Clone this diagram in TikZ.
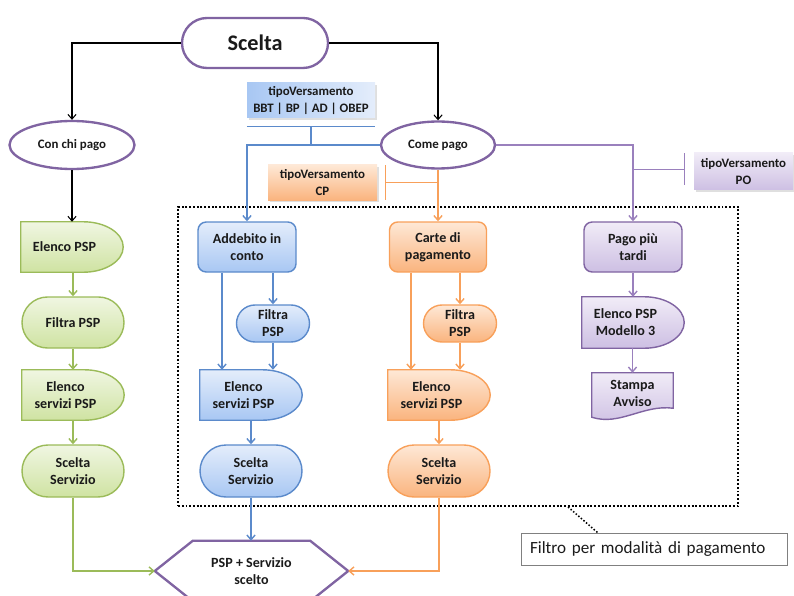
\documentclass[tikz,border=0pt]{standalone}
\usepackage{fontspec}
\setmainfont{Carlito}
\usetikzlibrary{positioning,calc,arrows.meta,shapes.misc,shapes.geometric,shadows,backgrounds}

\definecolor{viola}{HTML}{8064A2}
\definecolor{violalinea}{HTML}{9A80BD}
\definecolor{violasu}{HTML}{F1ECF7}
\definecolor{violagiu}{HTML}{CDBFE3}
\definecolor{verdelinea}{HTML}{9BBB59}
\definecolor{verdesu}{HTML}{F0F6E2}
\definecolor{verdegiu}{HTML}{CFE3A2}
\definecolor{blulinea}{HTML}{5B8ACB}
\definecolor{blusu}{HTML}{E4EDFB}
\definecolor{blugiu}{HTML}{A8C7F3}
\definecolor{aranciolinea}{HTML}{F8A05A}
\definecolor{aranciosu}{HTML}{FEE8D6}
\definecolor{aranciogiu}{HTML}{FAB47E}
\definecolor{testo}{HTML}{1A1A1A}

\tikzset{
  dim/.style 2 args={minimum width=#1*0.03cm, minimum height=#2*0.03cm},
  base/.style={inner sep=0pt, align=center, text=testo, font=\bfseries\fontsize{12}{14.5}\selectfont},
  piccolo/.style={font=\bfseries\fontsize{11}{14}\selectfont},
  ovale/.style={base, piccolo, ellipse, draw=viola, line width=2pt, fill=white},
  capsula/.style={base, rounded rectangle, line width=1.2pt},
  scatola/.style={base, rectangle, rounded corners=7pt, line width=1.2pt},
  dforma/.style={base, rectangle},
  tipo/.style={base, piccolo, rectangle, drop shadow={opacity=0.25, shadow xshift=1.5pt, shadow yshift=-1.5pt}},
  fverde/.style={draw=verdelinea, top color=verdesu, bottom color=verdegiu},
  fblu/.style={draw=blulinea, top color=blusu, bottom color=blugiu},
  farancio/.style={draw=aranciolinea, top color=aranciosu, bottom color=aranciogiu},
  fviola/.style={draw=viola, top color=violasu, bottom color=violagiu},
  freccia/.style={-{Straight Barb[length=4pt,width=7pt]}},
  nero/.style={draw=black, line width=0.9pt},
  lverde/.style={draw=verdelinea, line width=1.2pt},
  lblu/.style={draw=blulinea, line width=1.2pt},
  larancio/.style={draw=aranciolinea, line width=1.2pt},
  lviola/.style={draw=violalinea, line width=1.2pt},
  puntini/.style={draw=black, line width=1.6pt, dash pattern=on 1.6pt off 1.6pt}
}

\begin{document}
\begin{tikzpicture}[x=0.03cm,y=-0.03cm]
\useasboundingbox (0,0) rectangle (794,596);

% scelta iniziale
\node[capsula, draw=viola, line width=2pt, fill=white, dim={146}{50},
  font=\bfseries\fontsize{19}{22}\selectfont] (scelta) at (255,43) {Scelta};
\node[ovale, dim={125}{48}] (chi) at (72,145) {Con chi pago};
\node[ovale, dim={114}{47}] (come) at (438,145) {Come pago};

% colonna verde
\node[dforma, dim={87}{50}] (gelenco) at (64.5,247) {Elenco PSP};
\node[capsula, fverde, dim={102}{51}] (gfiltra) at (73,322.5) {Filtra PSP};
\node[dforma, dim={87}{50}] (gserv) at (65.5,395) {Elenco\\servizi PSP};
\node[capsula, fverde, dim={102}{52}] (gss) at (73,471) {Scelta\\Servizio};

% filtri tipoVersamento
\node[tipo, left color=blugiu, right color=blusu, dim={128}{35}] (tbb) at (311,100.5) {tipoVersamento\\BBT | BP | AD | OBEP};
\node[tipo, top color=aranciosu, bottom color=aranciogiu, dim={109}{35}] (tcp) at (322.5,182.5) {tipoVersamento\\CP};
\node[tipo, top color=violasu, bottom color=violagiu, dim={99}{37}] (tpo) at (743.5,171.5) {tipoVersamento\\PO};

% colonna blu
\node[scatola, fblu, dim={98}{50}] (bad) at (247,247) {Addebito in\\conto};
\node[capsula, fblu, dim={73}{37}] (bfiltra) at (273,323.5) {Filtra\\PSP};
\node[dforma, dim={87}{50}] (bserv) at (243.5,395) {Elenco\\servizi PSP};
\node[capsula, fblu, dim={102}{52}] (bss) at (251,471) {Scelta\\Servizio};

% colonna arancio
\node[scatola, farancio, dim={97}{50}] (ocarte) at (438,247) {Carte di\\pagamento};
\node[capsula, farancio, dim={73}{37}] (ofiltra) at (460,323.5) {Filtra\\PSP};
\node[dforma, dim={87}{50}] (oserv) at (431.5,395) {Elenco\\servizi PSP};
\node[capsula, farancio, dim={102}{52}] (oss) at (439,471) {Scelta\\Servizio};

% colonna viola
\node[scatola, fviola, dim={98}{50}] (ppiu) at (633,247) {Pago più\\tardi};
\node[dforma, dim={87}{51}] (pmod) at (625.5,322.5) {Elenco PSP\\Modello 3};
\node[dforma, dim={81}{40}] (pstampa) at (632.5,393) {Stampa\\Avviso};

% risultato
\node[base, rectangle, dim={193}{60}] (hex) at (251.5,571) {PSP + Servizio\\scelto};

% riquadro filtro
\node[puntini, rectangle, dim={560}{299}] (filtro) at (458,356.5) {};
\node[draw=gray, line width=0.8pt, rectangle, inner ysep=0pt, inner xsep=0.27cm,
  text width=7.44cm, minimum height=0.96cm, align=left, text=testo,
  font=\fontsize{14.6}{16}\selectfont] (etichetta) at (654,549) {Filtro per modalità di pagamento};
\draw[puntini, line width=1.3pt, dash pattern=on 1.3pt off 1.6pt]
  ($(filtro.south)+(110,0)$) -- ($(etichetta.north west)+(77,0)$);

% forme disegnate dietro
\begin{scope}[on background layer]
  \foreach \n/\s in {gelenco/fverde, gserv/fverde, bserv/fblu, oserv/farancio, pmod/fviola}
    \draw[\s, line width=1.2pt] (\n.north west) -- ($(\n.north east)+(-25,0)$)
      .. controls +(22,0) and +(0,-14) .. ($(\n.east)+(15,0)$)
      .. controls +(0,14) and +(22,0) .. ($(\n.south east)+(-25,0)$)
      -- (\n.south west) -- cycle;
  \draw[fviola, line width=1.2pt] ($(pstampa.south west)+(0,4)$) -- (pstampa.north west)
    -- (pstampa.north east) -- ($(pstampa.south east)+(0,-5)$)
    .. controls +(-30,-4) and +(28,9) .. ($(pstampa.south west)+(0,4)$) -- cycle;
  \draw[draw=viola, line width=2pt, fill=white] (hex.west) -- ($(hex.north west)+(38,0)$)
    -- ($(hex.north east)+(-38,0)$) -- (hex.east) -- ($(hex.south east)+(-38,0)$)
    -- ($(hex.south west)+(38,0)$) -- cycle;
\end{scope}

% connettori neri
\draw[nero, freccia] (scelta.west) -| (chi.north);
\draw[nero, freccia] (scelta.east) -| (come.north);
\draw[nero, freccia] (chi.south) -- (chi.south |- gelenco.north);

% connettori verdi
\draw[lverde, freccia] (gfiltra.north |- gelenco.south) -- (gfiltra.north);
\draw[lverde, freccia] (gfiltra.south) -- (gfiltra.south |- gserv.north);
\draw[lverde, freccia] (gss.north |- gserv.south) -- (gss.north);
\draw[lverde, freccia] (gss.south) |- (hex.west);

% connettori blu
\coordinate (bbar) at ($(tbb.south)+(0,8)$);
\draw[lblu] ($(tbb.south west)+(0,8)$) -- ($(tbb.south east)+(0,8)$);
\draw[lblu] (bbar) -- (bbar |- come.west);
\draw[lblu, freccia] (come.west) -| (bad.north);
\coordinate (bsx) at ($(bad.south)+(-25,0)$);
\draw[lblu, freccia] (bsx) -- (bsx |- bserv.north);
\draw[lblu, freccia] ($(bad.south)+(26,0)$) -- (bfiltra.north);
\draw[lblu, freccia] (bfiltra.south) -- (bfiltra.south |- bserv.north);
\draw[lblu, freccia] (bss.north |- bserv.south) -- (bss.north);
\draw[lblu, freccia] (bss.south) -- (bss.south |- hex.north);

% connettori arancio
\coordinate (obar) at ($(tcp.east)+(8,0)$);
\draw[larancio] ($(obar)+(0,-17)$) -- ($(obar)+(0,17)$);
\draw[larancio] (obar) -- (obar -| come.south);
\draw[larancio, freccia] (come.south) -- (ocarte.north);
\coordinate (osx) at ($(ocarte.south)+(-27,0)$);
\draw[larancio, freccia] (osx) -- (osx |- oserv.north);
\draw[larancio, freccia] ($(ocarte.south)+(22,0)$) -- (ofiltra.north);
\draw[larancio, freccia] (ofiltra.south) -- (ofiltra.south |- oserv.north);
\draw[larancio, freccia] (oss.north |- oserv.south) -- (oss.north);
\draw[larancio, freccia] (oss.south) |- (hex.east);

% connettori viola
\coordinate (pbar) at ($(tpo.west)+(-9,-2)$);
\draw[lviola] ($(pbar)+(0,-16)$) -- ($(pbar)+(0,16)$);
\draw[lviola] (pbar) -- (pbar -| ppiu.north);
\draw[lviola, freccia] (come.east) -| (ppiu.north);
\draw[lviola, freccia] (ppiu.south) -- (ppiu.south |- pmod.north);
\draw[lviola, freccia] (pstampa.north |- pmod.south) -- (pstampa.north);
\end{tikzpicture}
\end{document}
